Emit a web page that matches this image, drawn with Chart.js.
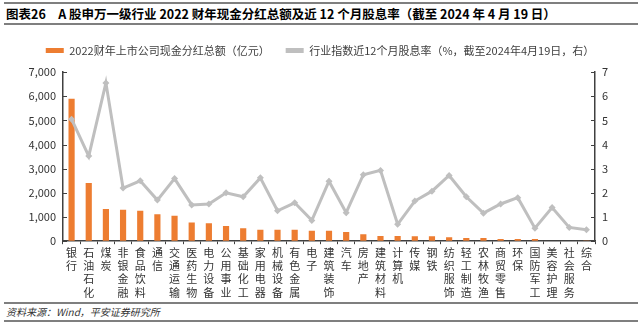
<!DOCTYPE html>
<html>
<head>
<meta charset="utf-8">
<script src="https://cdn.jsdelivr.net/npm/chart.js@4"></script>
<style>
  body { margin: 0; width: 640px; height: 324px; background: #fff; font-family: "Noto Sans CJK SC", sans-serif; position: relative; overflow: hidden; }
  #title { position: absolute; left: 4px; top: 2px; width: 632px; height: 19px; border-top: 2px solid #7f7f7f; border-bottom: 2px solid #7f7f7f; font-size: 12.5px; font-weight: bold; line-height: 19px; color: #000; padding-left: 2px; box-sizing: content-box; }
  #wrap { position: absolute; left: 0; top: 25px; width: 640px; height: 276px; }
  #foot { position: absolute; left: 4px; top: 302px; width: 632px; height: 16px; border-top: 2px solid #7f7f7f; border-bottom: 2px solid #7f7f7f; font-size: 10px; font-style: italic; line-height: 16px; color: #333; padding-left: 2px; }
</style>
</head>
<body>
<div id="title">图表26　A 股申万一级行业 2022 财年现金分红总额及近 12 个月股息率（截至 2024 年 4 月 19 日）</div>
<div id="wrap"><canvas id="myChart" width="640" height="276"></canvas></div>
<div id="foot">资料来源：Wind，平安证券研究所</div>
<script>
var industries = ['银行', '石油石化', '煤炭', '非银金融', '食品饮料', '通信', '交通运输', '医药生物',
  '电力设备', '公用事业', '基础化工', '家用电器', '机械设备', '有色金属', '电子', '建筑装饰',
  '汽车', '房地产', '建筑材料', '计算机', '传媒', '钢铁', '纺织服饰', '轻工制造', '农林牧渔',
  '商贸零售', '环保', '国防军工', '美容护理', '社会服务', '综合'];
var dividends = [5890, 2410, 1330, 1300, 1260, 1110, 1050, 770, 740, 630, 540, 470, 470, 470, 430, 430,
  380, 290, 210, 210, 200, 200, 160, 130, 130, 90, 90, 90, 20, 15, 5];
var yieldRate = [5.05, 3.52, 6.55, 2.2, 2.5, 1.7, 2.59, 1.5, 1.54, 2.0, 1.84, 2.62, 1.26, 1.59, 0.86, 2.48,
  1.18, 2.75, 2.93, 0.70, 1.66, 2.07, 2.72, 1.84, 1.16, 1.54, 1.80, 0.54, 1.39, 0.57, 0.47];
var leftTicks = [0, 1000, 2000, 3000, 4000, 5000, 6000, 7000];
var rightTicks = [0, 1, 2, 3, 4, 5, 6, 7];

var font = { family: '"Noto Sans CJK SC", sans-serif', size: 11 };

// short tick marks pointing into the plot, like the original
var innerTicks = {
  id: 'innerTicks',
  afterDatasetsDraw: function(chart) {
    var c = chart.ctx;
    c.save();
    c.strokeStyle = '#404040';
    c.lineWidth = 1;
    ['y', 'y1'].forEach(function(id) {
      var s = chart.scales[id];
      var x = id === 'y' ? s.right : s.left;
      var d = id === 'y' ? 4 : -4;
      s.ticks.forEach(function(t) {
        var py = Math.round(s.getPixelForValue(t.value)) + 0.5;
        c.beginPath();
        c.moveTo(x, py);
        c.lineTo(x + d, py);
        c.stroke();
      });
    });
    c.restore();
  }
};

// extra room under the legend
var legendGap = {
  id: 'legendGap',
  beforeInit: function(chart) {
    var fit = chart.legend.fit;
    chart.legend.fit = function() {
      fit.call(this);
      this.height += 6;
    };
  }
};

var ctx = document.getElementById('myChart').getContext('2d');
var myChart = new Chart(ctx, {
  data: {
    labels: industries.map(function(s) { return s.split(''); }),
    datasets: [{
      type: 'line',
      label: '行业指数近12个月股息率（%，截至2024年4月19日，右）',
      data: yieldRate,
      yAxisID: 'y1',
      borderColor: '#BFBFBF',
      backgroundColor: '#BFBFBF',
      borderWidth: 3,
      pointStyle: 'rectRot',
      pointRadius: 3.5,
      pointBackgroundColor: '#BFBFBF',
      pointBorderWidth: 0,
      tension: 0,
      order: 0
    }, {
      type: 'bar',
      label: '2022财年上市公司现金分红总额（亿元）',
      data: dividends,
      yAxisID: 'y',
      backgroundColor: '#ED7D31',
      categoryPercentage: 1,
      barPercentage: 0.36,
      order: 1
    }]
  },
  options: {
    responsive: false,
    animation: false,
    layout: { padding: { top: 4, left: 0, right: 0, bottom: 0 } },
    plugins: {
      legend: {
        position: 'top',
        reverse: true,
        labels: {
          font: font,
          color: '#404040',
          boxWidth: 18,
          boxHeight: 5,
          padding: 16,
          generateLabels: function(chart) {
            var items = Chart.defaults.plugins.legend.labels.generateLabels(chart);
            items.forEach(function(it) { it.lineWidth = 0; });
            return items;
          }
        }
      },
      tooltip: { enabled: false }
    },
    scales: {
      x: {
        offset: true,
        grid: { offset: true, drawOnChartArea: false, tickLength: 3, color: '#404040' },
        border: { color: '#404040', width: 1.5 },
        ticks: { font: font, color: '#333', maxRotation: 0, autoSkip: false, padding: 2 }
      },
      y: {
        position: 'left',
        min: 0, max: 7000,
        afterBuildTicks: function(s) { s.ticks = leftTicks.map(function(v) { return { value: v }; }); },
        afterFit: function(s) { s.width = 63; },
        grid: { drawOnChartArea: false, drawTicks: false },
        border: { color: '#404040', width: 1.5 },
        ticks: { font: font, color: '#333', padding: 7,
          callback: function(v) { return v.toLocaleString('en-US'); } }
      },
      y1: {
        position: 'right',
        min: 0, max: 7,
        afterBuildTicks: function(s) { s.ticks = rightTicks.map(function(v) { return { value: v }; }); },
        afterFit: function(s) { s.width = 45; },
        grid: { drawOnChartArea: false, drawTicks: false },
        border: { color: '#404040', width: 1.5 },
        ticks: { font: font, color: '#333', padding: 7 }
      }
    }
  },
  plugins: [innerTicks, legendGap]
});
</script>
</body>
</html>
